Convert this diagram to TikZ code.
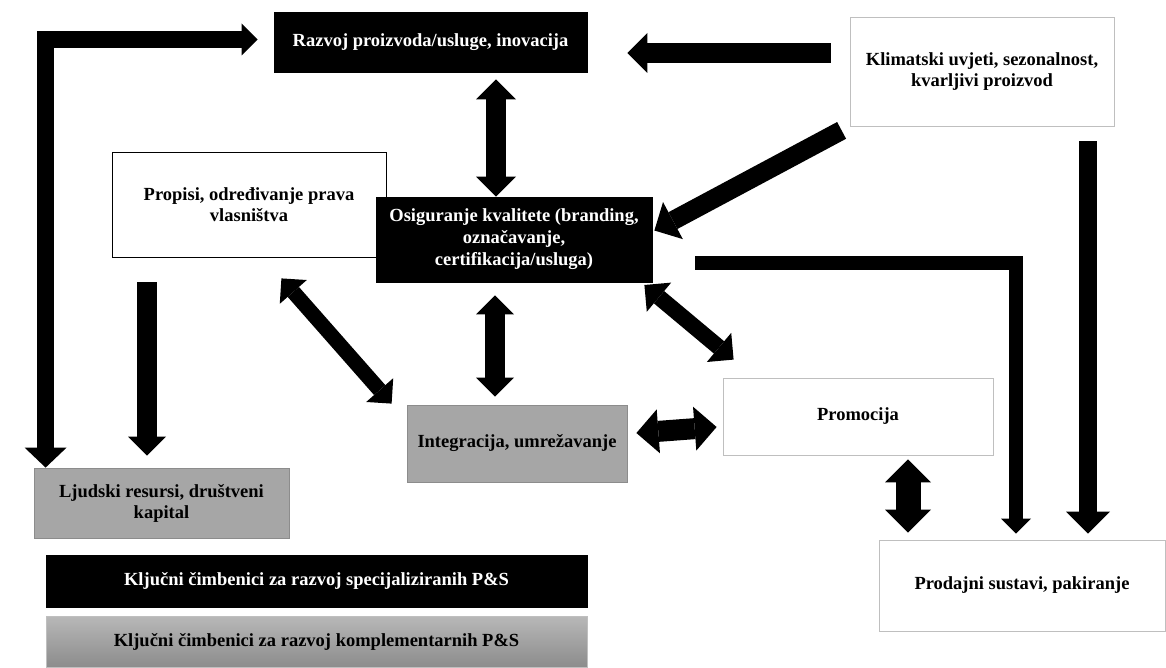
\documentclass[tikz,border=0pt]{standalone}
\usepackage{fontspec}
\setmainfont{Liberation Serif}
\usepackage{tikz}
\usetikzlibrary{arrows.meta}
\usetikzlibrary{calc}

\definecolor{boxgray}{HTML}{BFBFBF}
\definecolor{edgegray}{HTML}{8C8C8C}
\definecolor{fillgray}{HTML}{A6A6A6}

\tikzset{
  box/.style={rectangle, inner sep=3pt, align=center, thick,
    font=\bfseries\fontsize{18.5}{21}\selectfont},
  darkbox/.style={box, draw=black, fill=black, text=white},
  whitebox/.style={box, draw=boxgray, fill=white},
  greybox/.style={box, draw=edgegray, fill=fillgray},
  onehead/.style 2 args={line width=#1pt,
    arrows={-{Triangle[length=#2pt,width=#2pt*2,line width=0pt]}}},
  twoheads/.style 2 args={line width=#1pt,
    arrows={{Triangle[length=#2pt,width=#2pt*2,line width=0pt]}-{Triangle[length=#2pt,width=#2pt*2,line width=0pt]}}}
}

\begin{document}
\begin{tikzpicture}[x=1pt,y=-1pt]
  \useasboundingbox (0,0) rectangle (1166,668);

  % boxes
  \node[darkbox, minimum width=313pt, minimum height=60pt] (razvoj) at (430.5,42) {Razvoj proizvoda/usluge, inovacija};
  \node[whitebox, minimum width=264pt, minimum height=109pt] (klima) at (982,71.5) {Klimatski uvjeti, sezonalnost,\\kvarljivi proizvod};
  \node[box, draw=black, fill=white, minimum width=274pt, minimum height=105pt] (propisi) at (249,204.5) {Propisi, određivanje prava\\vlasništva};
  \node[darkbox, minimum width=276pt, minimum height=85pt, font=\bfseries\fontsize{18.5}{22}\selectfont] (osig) at (514,239.5) {Osiguranje kvalitete (branding,\\označavanje,\\certifikacija/usluga)};
  \node[greybox, minimum width=255pt, minimum height=70pt] (ljudski) at (161.5,503) {Ljudski resursi, društveni\\kapital};
  \node[greybox, minimum width=220pt, minimum height=77pt] (integ) at (517,443.5) {Integracija, umrežavanje};
  \node[whitebox, minimum width=270pt, minimum height=77pt] (promo) at (858,416.5) {Promocija};
  \node[whitebox, minimum width=286pt, minimum height=91pt] (prodaj) at (1022,585.5) {Prodajni sustavi, pakiranje};

  % legend
  \node[darkbox, minimum width=541pt, minimum height=52pt] (legspec) at (316.5,581) {Ključni čimbenici za razvoj specijaliziranih P\&S};
  \node[box, draw=boxgray, top color=fillgray!80, bottom color=edgegray, minimum width=541pt, minimum height=51pt] (legkomp) at (316.5,641.5) {Ključni čimbenici za razvoj komplementarnih P\&S};

  % arrows
  \draw[line width=17pt, arrows={{Triangle[length=16pt,width=32pt,line width=0pt]}-{Triangle[length=20pt,width=42pt,line width=0pt]}}]
    ($(razvoj.west)+(-16,-2.5)$) -| ($(ljudski.north west)+(12,0)$);
  \draw[onehead={20}{20}] ($(klima.west)+(-19,-18.5)$) -- ($(razvoj.east)+(40,11)$);
  \draw[onehead={19}{21}] ($(klima.south west)+(-8,4)$) -- ($(osig.east)+(2,-9)$);
  \draw[twoheads={20}{20}] ($(razvoj.south)+(65.5,7)$) -- ($(osig.north)+(-18,0)$);
  \draw[onehead={20}{19}] ($(propisi.south)+(-102,25)$) -- ($(ljudski.north)+(-14.5,-12)$);
  \draw[twoheads={15}{18}] ($(propisi.south east)+(-105,21)$) -- ($(integ.north west)+(-15,-1)$);
  \draw[twoheads={20}{19}] ($(osig.south)+(-19,13)$) -- ($(integ.north)+(-22,-8)$);
  \draw[twoheads={16}{19}] ($(osig.east)+(-8,45.5)$) -- ($(promo.north west)+(11,-18)$);
  \draw[twoheads={21}{22}] ($(integ.east)+(9,-10.5)$) -- ($(promo.west)+(-6,10.5)$);
  \draw[twoheads={25}{23}] ($(promo.south)+(50,4)$) -- ($(prodaj.north)+(-114,-7)$);
  \draw[line width=14pt, arrows={-{Triangle[length=15pt,width=30pt,line width=0pt]}}]
    ($(osig.east)+(43,23)$) -| ($(prodaj.north)+(-6,-6)$);
  \draw[onehead={18}{22}] ($(klima.south)+(106,15)$) -- ($(prodaj.north)+(66,-6)$);
\end{tikzpicture}
\end{document}
